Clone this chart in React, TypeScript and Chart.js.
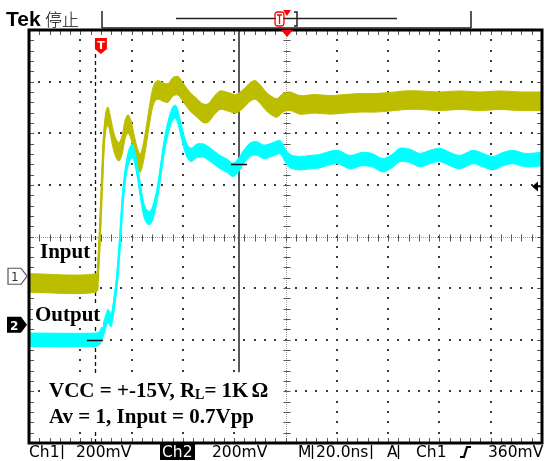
import { useEffect, useRef } from 'react';
import { Chart, registerables } from 'chart.js';

Chart.register(...registerables);

// ---- data (time in ns, amplitude in screen divisions, 0 = centre line) ----
const inputTimeNs = [0, 26.1, 26.9, 27.7, 28.5, 29.2, 30.0, 30.8, 31.6, 32.7, 33.9, 35.1, 36.3, 37.4, 38.6, 39.8, 40.9, 42.1, 43.3, 44.4, 45.6, 46.8, 48.0, 49.1, 50.3, 52.2, 54.2, 56.1, 58.1, 60.0, 62.8, 65.5, 67.8, 69.8, 72.1, 74.5, 77.6, 80.7, 83.8, 86.2, 88.1, 90.1, 92.4, 94.7, 96.7, 99.0, 101.8, 105.7, 111.5, 117.3, 123.2, 129.0, 134.9, 140.7, 146.6, 152.4, 160.2, 168.0, 175.8, 183.6, 191.4, 200];
const inputDiv = [-0.9, -0.9, -0.65, 0.13, 1.09, 1.87, 2.25, 2.33, 2.18, 1.91, 1.71, 1.64, 1.77, 2.06, 2.18, 2.06, 1.81, 1.56, 1.42, 1.58, 1.91, 2.3, 2.64, 2.8, 2.84, 2.8, 2.78, 2.9, 2.92, 2.8, 2.61, 2.49, 2.39, 2.39, 2.53, 2.64, 2.61, 2.57, 2.68, 2.8, 2.84, 2.76, 2.62, 2.53, 2.49, 2.59, 2.62, 2.55, 2.57, 2.55, 2.57, 2.59, 2.59, 2.61, 2.64, 2.64, 2.62, 2.64, 2.62, 2.64, 2.62, 2.62];

const outputTimeNs = [0, 26.1, 27.7, 29.2, 30.8, 32.0, 33.1, 34.3, 35.5, 36.6, 37.8, 39.0, 40.2, 41.3, 42.5, 43.7, 44.8, 46.0, 47.2, 48.3, 49.9, 51.5, 53.0, 54.6, 56.1, 57.3, 58.5, 60.0, 61.6, 63.2, 65.5, 68.2, 71.3, 74.5, 77.2, 79.5, 81.5, 83.4, 86.2, 88.5, 91.6, 94.7, 97.9, 99.8, 101.8, 105.7, 109.6, 113.4, 117.3, 120.5, 125.1, 129.8, 133.7, 138.0, 141.5, 144.6, 148.5, 152.4, 156.3, 160.2, 164.1, 168.0, 173.1, 177.0, 180.9, 184.8, 188.7, 193.4, 200];
const outputDiv = [-2.0, -2.0, -1.95, -1.77, -1.54, -1.62, -1.33, -0.84, -0.07, 0.75, 1.29, 1.56, 1.66, 1.52, 1.19, 0.8, 0.51, 0.38, 0.36, 0.47, 0.8, 1.33, 1.83, 2.18, 2.39, 2.41, 2.22, 1.91, 1.66, 1.58, 1.66, 1.66, 1.56, 1.44, 1.37, 1.29, 1.37, 1.52, 1.68, 1.71, 1.64, 1.68, 1.73, 1.58, 1.46, 1.42, 1.44, 1.46, 1.52, 1.54, 1.44, 1.5, 1.48, 1.38, 1.46, 1.58, 1.56, 1.48, 1.54, 1.58, 1.5, 1.44, 1.54, 1.48, 1.42, 1.5, 1.54, 1.48, 1.5];

const inputNoiseDiv = 0.18;
const outputNoiseDiv = 0.13;

const timePerDivNs = 20;
const xDivs = 10;
const yDivs = 8;
const triggerNs = 25.7;
const cursorNs = 81.9;
const triggerPosNs = 100.6;
const ch1GroundDiv = -0.77;
const ch2GroundDiv = -1.71;
const trigLevelDiv = 0.98;
const cursorLevels = [
  { t: triggerNs, v: -2.0 },
  { t: cursorNs, v: 1.4 },
];

const headerBrand = 'Tek';
const headerState = '停止';
const labelInput = 'Input';
const labelOutput = 'Output';
const noteLine1 = ['VCC = +-15V, R', 'L', '= 1K', 'Ω'];
const noteLine2 = 'Av = 1, Input = 0.7Vpp';
const status = {
  ch1: 'Ch1', ch1Scale: '200mV', ch2: 'Ch2', ch2Scale: '200mV',
  m: 'M', time: '20.0ns', a: 'A', trigSrc: 'Ch1', trigLevel: '360mV',
};

const YELLOW = '#BDBD00';
const CYAN = '#00FFFF';

const pts = (t: number[], v: number[], off = 0) => t.map((x, i) => ({ x, y: v[i] + off }));

const graticule = {
  id: 'graticule',
  beforeDatasetsDraw(chart: any) {
    const { ctx, chartArea: a, scales } = chart;
    const xs = scales.x, ys = scales.y;
    const maxT = timePerDivNs * xDivs;
    const half = yDivs / 2;
    ctx.save();
    ctx.fillStyle = '#3a3a3a';
    for (let i = 1; i < xDivs; i++) {
      if (i === xDivs / 2) continue;
      const px = Math.round(xs.getPixelForValue(i * timePerDivNs));
      for (let k = 1; k < yDivs * 5; k++) {
        const py = Math.round(ys.getPixelForValue(-half + k * 0.2));
        ctx.fillRect(px - 1, py - 1, 2, 2);
      }
    }
    for (let j = 1; j < yDivs; j++) {
      if (j === half) continue;
      const py = Math.round(ys.getPixelForValue(-half + j));
      for (let k = 1; k < xDivs * 5; k++) {
        const px = Math.round(xs.getPixelForValue(k * timePerDivNs / 5));
        ctx.fillRect(px - 1, py - 1, 2, 2);
      }
    }
    const cx = Math.round(xs.getPixelForValue(maxT / 2)) + 0.5;
    const cy = Math.round(ys.getPixelForValue(0)) + 0.5;
    ctx.strokeStyle = '#9a9a9a';
    ctx.lineWidth = 1;
    ctx.setLineDash([1, 1]);
    ctx.beginPath();
    ctx.moveTo(a.left, cy); ctx.lineTo(a.right, cy);
    ctx.moveTo(cx, a.top); ctx.lineTo(cx, a.bottom);
    ctx.stroke();
    ctx.setLineDash([]);
    ctx.strokeStyle = '#555';
    ctx.beginPath();
    for (let k = 1; k < xDivs * 5; k++) {
      const px = Math.round(xs.getPixelForValue(k * timePerDivNs / 5)) + 0.5;
      ctx.moveTo(px, cy - 3); ctx.lineTo(px, cy + 4);
      ctx.moveTo(px, a.top); ctx.lineTo(px, a.top + 5);
      ctx.moveTo(px, a.bottom - 5); ctx.lineTo(px, a.bottom);
    }
    for (let k = 1; k < yDivs * 5; k++) {
      const py = Math.round(ys.getPixelForValue(-half + k * 0.2)) + 0.5;
      ctx.moveTo(cx - 3, py); ctx.lineTo(cx + 4, py);
      ctx.moveTo(a.left, py); ctx.lineTo(a.left + 5, py);
      ctx.moveTo(a.right - 5, py); ctx.lineTo(a.right, py);
    }
    ctx.stroke();

    const tx = Math.round(xs.getPixelForValue(triggerNs)) + 0.5;
    ctx.strokeStyle = '#111';
    ctx.lineWidth = 1.3;
    ctx.setLineDash([4, 3]);
    ctx.beginPath();
    ctx.moveTo(tx, a.top + 24); ctx.lineTo(tx, a.bottom);
    ctx.stroke();
    ctx.setLineDash([]);
    const ux = Math.round(xs.getPixelForValue(cursorNs));
    ctx.strokeStyle = '#5a5a5a';
    ctx.lineWidth = 2;
    ctx.beginPath();
    ctx.moveTo(ux, a.top); ctx.lineTo(ux, ys.getPixelForValue(-2.63));
    ctx.stroke();
    ctx.restore();
  },
  afterDatasetsDraw(chart: any) {
    const { ctx, chartArea: a, scales } = chart;
    const xs = scales.x, ys = scales.y;
    ctx.save();
    ctx.strokeStyle = '#111';
    ctx.lineWidth = 1.5;
    ctx.beginPath();
    cursorLevels.forEach((c) => {
      const px = xs.getPixelForValue(c.t), py = Math.round(ys.getPixelForValue(c.v)) + 0.5;
      ctx.moveTo(px - 8, py); ctx.lineTo(px + 8, py);
    });
    ctx.stroke();
    ctx.strokeStyle = '#000';
    ctx.lineWidth = 3;
    ctx.strokeRect(a.left, a.top, a.right - a.left, a.bottom - a.top);

    const px = xs.getPixelForValue(triggerPosNs);
    ctx.fillStyle = '#ff0000';
    ctx.beginPath();
    ctx.moveTo(px - 6, a.top); ctx.lineTo(px + 6, a.top); ctx.lineTo(px, a.top + 7); ctx.closePath();
    ctx.fill();

    const tx = xs.getPixelForValue(triggerNs) + 6;
    ctx.beginPath();
    ctx.moveTo(tx - 6, a.top + 8);
    ctx.lineTo(tx + 6, a.top + 8);
    ctx.lineTo(tx + 6, a.top + 19);
    ctx.lineTo(tx, a.top + 24);
    ctx.lineTo(tx - 6, a.top + 19);
    ctx.closePath();
    ctx.fill();
    ctx.fillStyle = '#fff';
    ctx.font = 'bold 11px "DejaVu Sans"';
    ctx.textAlign = 'center';
    ctx.fillText('T', tx, a.top + 19);

    ctx.textAlign = 'left';
    const g1 = ys.getPixelForValue(ch1GroundDiv);
    ctx.beginPath();
    ctx.moveTo(8, g1 - 8); ctx.lineTo(21, g1 - 8); ctx.lineTo(27, g1); ctx.lineTo(21, g1 + 8); ctx.lineTo(8, g1 + 8); ctx.closePath();
    ctx.fillStyle = '#fff'; ctx.fill();
    ctx.strokeStyle = '#555'; ctx.lineWidth = 1.2; ctx.stroke();
    ctx.fillStyle = '#333';
    ctx.font = '12px "DejaVu Sans"';
    ctx.fillText('1', 11, g1 + 5);
    const g2 = ys.getPixelForValue(ch2GroundDiv);
    ctx.beginPath();
    ctx.moveTo(7, g2 - 8); ctx.lineTo(21, g2 - 8); ctx.lineTo(27, g2); ctx.lineTo(21, g2 + 8); ctx.lineTo(7, g2 + 8); ctx.closePath();
    ctx.fillStyle = '#000'; ctx.fill();
    ctx.fillStyle = '#fff';
    ctx.font = 'bold 12px "DejaVu Sans"';
    ctx.fillText('2', 10, g2 + 5);

    const tl = Math.round(ys.getPixelForValue(trigLevelDiv)) + 0.5;
    ctx.fillStyle = '#000';
    ctx.beginPath();
    ctx.moveTo(a.right - 10, tl); ctx.lineTo(a.right - 4, tl - 5); ctx.lineTo(a.right - 4, tl + 5); ctx.closePath();
    ctx.fill();
    ctx.strokeStyle = '#000'; ctx.lineWidth = 1.5;
    ctx.beginPath(); ctx.moveTo(a.right - 5, tl); ctx.lineTo(a.right, tl); ctx.stroke();
    ctx.restore();
  },
  afterDraw(chart: any) {
    const { ctx } = chart;
    ctx.save();
    ctx.fillStyle = '#000';
    ctx.textAlign = 'left';
    ctx.textBaseline = 'alphabetic';
    ctx.font = 'bold 21px "Liberation Sans"';
    ctx.fillText(headerBrand, 6, 26);
    ctx.font = '300 17px "Noto Sans CJK SC"';
    ctx.fillText(headerState, 45, 26);
    ctx.strokeStyle = '#222';
    ctx.lineWidth = 1.5;
    ctx.beginPath();
    ctx.moveTo(102, 11); ctx.lineTo(102, 28);
    ctx.moveTo(471, 11); ctx.lineTo(471, 28);
    ctx.moveTo(102, 28); ctx.lineTo(471, 28);
    ctx.moveTo(176, 18.5); ctx.lineTo(397, 18.5);
    ctx.moveTo(294, 12); ctx.lineTo(297, 12); ctx.lineTo(297, 26); ctx.lineTo(294, 26);
    ctx.stroke();
    ctx.strokeStyle = '#ff0000';
    ctx.lineWidth = 1.3;
    ctx.beginPath();
    ctx.roundRect(275, 12, 9, 14, 3);
    ctx.stroke();
    ctx.fillStyle = '#fff';
    ctx.fillRect(276, 13, 7, 12);
    ctx.strokeStyle = '#ff0000';
    ctx.beginPath();
    ctx.moveTo(277, 15); ctx.lineTo(282, 15); ctx.moveTo(279.5, 15); ctx.lineTo(279.5, 24);
    ctx.stroke();
    ctx.fillStyle = '#ff0000';
    ctx.beginPath();
    ctx.moveTo(283, 10); ctx.lineTo(291, 10); ctx.lineTo(287, 16); ctx.closePath();
    ctx.fill();

    // white label backgrounds (annotation boxes)
    ctx.fillStyle = '#fff';
    ctx.fillRect(38, 242, 54, 20);
    ctx.fillRect(33, 303, 70, 24);
    ctx.fillRect(46, 374, 236, 56);

    ctx.fillStyle = '#000';
    ctx.font = 'bold 21px "Liberation Serif"';
    ctx.fillText(labelInput, 40, 258);
    ctx.fillText(labelOutput, 35, 321);
    let x = 49;
    ctx.fillText(noteLine1[0], x, 397);
    x += ctx.measureText(noteLine1[0]).width;
    ctx.font = 'bold 14px "Liberation Serif"';
    ctx.fillText(noteLine1[1], x, 399);
    x += ctx.measureText(noteLine1[1]).width;
    ctx.font = 'bold 21px "Liberation Serif"';
    ctx.fillText(noteLine1[2], x, 397);
    x += ctx.measureText(noteLine1[2]).width + 3;
    ctx.fillText(noteLine1[3], x, 397);
    ctx.fillText(noteLine2, 49, 423);

    ctx.font = '15.5px "DejaVu Sans"';
    const by = 457;
    ctx.fillText(status.ch1, 29, by);
    ctx.fillText(status.ch1Scale, 76, by);
    ctx.fillRect(160, 444, 35, 16);
    ctx.fillStyle = '#fff';
    ctx.fillText(status.ch2, 162, by);
    ctx.fillStyle = '#000';
    ctx.fillText(status.ch2Scale, 212, by);
    ctx.fillText(status.m, 298, by);
    ctx.fillText(status.time, 316, by);
    ctx.fillText(status.a, 387, by);
    ctx.fillText(status.trigSrc, 416, by);
    ctx.fillText(status.trigLevel, 488, by);
    ctx.strokeStyle = '#000';
    ctx.lineWidth = 1.3;
    ctx.beginPath();
    [62, 312, 371, 398].forEach((sx) => { ctx.moveTo(sx + 0.5, 445); ctx.lineTo(sx + 0.5, 459); });
    ctx.stroke();
    ctx.lineWidth = 2.2;
    ctx.beginPath();
    ctx.moveTo(460, 457); ctx.lineTo(464, 457); ctx.lineTo(467, 447); ctx.lineTo(471, 447);
    ctx.stroke();
    ctx.restore();
  },
};

export default function App() {
  const ref = useRef<HTMLCanvasElement | null>(null);
  useEffect(() => {
    if (!ref.current) return;
    const band = (t: number[], v: number[], n: number, color: string) => [
      { data: pts(t, v, n), borderColor: color, borderWidth: 1, backgroundColor: color, fill: false, tension: 0.3, pointRadius: 0 },
      { data: pts(t, v, -n), borderColor: color, borderWidth: 1, backgroundColor: color, fill: '-1', tension: 0.3, pointRadius: 0 },
      { data: pts(t, v), borderColor: color, borderWidth: 2.5, fill: false, tension: 0.3, pointRadius: 0 },
    ];
    const chart = new Chart(ref.current, {
      type: 'line',
      data: {
        datasets: [
          ...band(outputTimeNs, outputDiv, outputNoiseDiv, CYAN),
          ...band(inputTimeNs, inputDiv, inputNoiseDiv, YELLOW),
        ] as any,
      },
      options: {
        animation: false,
        responsive: false,
        maintainAspectRatio: false,
        layout: { padding: { left: 29, top: 30, right: 3, bottom: 18 } },
        plugins: { legend: { display: false }, tooltip: { enabled: false } },
        elements: { point: { radius: 0 } },
        scales: {
          x: { type: 'linear', min: 0, max: timePerDivNs * xDivs, display: false },
          y: { type: 'linear', min: -yDivs / 2, max: yDivs / 2, display: false },
        },
      },
      plugins: [graticule],
    });
    return () => chart.destroy();
  }, []);
  return (
    <div style={{ position: 'absolute', left: 0, top: 0, width: 545, height: 461, background: '#fff' }}>
      <canvas ref={ref} width={545} height={461} style={{ width: 545, height: 461, display: 'block' }} />
    </div>
  );
}
